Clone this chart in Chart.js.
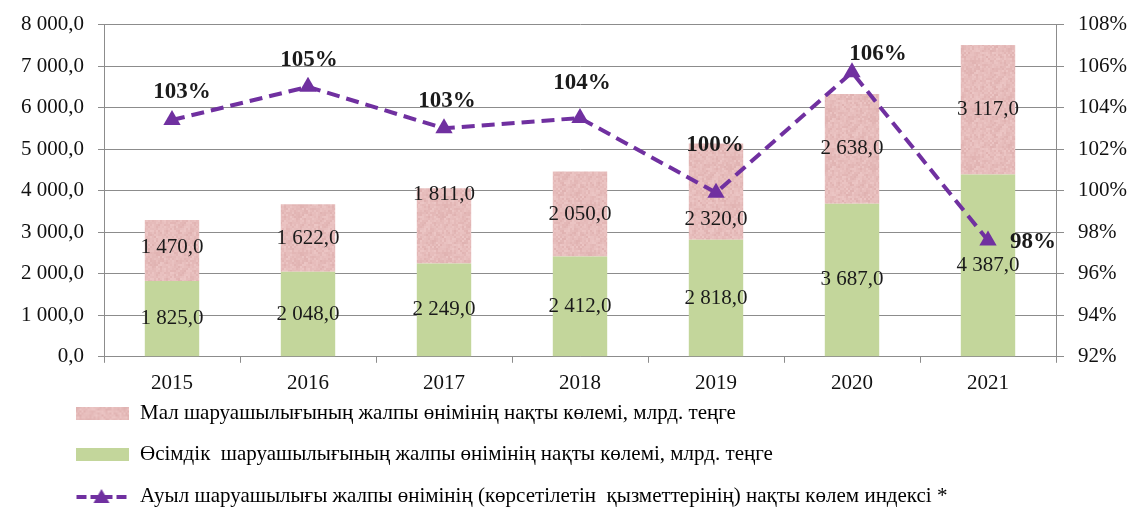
<!DOCTYPE html>
<html>
<head>
<meta charset="utf-8">
<script src="https://cdn.jsdelivr.net/npm/chart.js@4.4.1/dist/chart.umd.min.js"></script>
<style>
  html, body { margin: 0; padding: 0; background: #fff; }
  #wrap { width: 1142px; height: 510px; position: relative; }
</style>
</head>
<body>
<div id="wrap"><canvas id="myChart"></canvas></div>
<script>
const years = ["2015", "2016", "2017", "2018", "2019", "2020", "2021"];
const cropValues = [1825, 2048, 2249, 2412, 2818, 3687, 4387];
const livestockValues = [1470, 1622, 1811, 2050, 2320, 2638, 3117];
const indexValues = [103.4, 105.0, 103.0, 103.5, 99.9, 105.7, 97.6];
const indexLabels = ["103%", "105%", "103%", "104%", "100%", "106%", "98%"];

const livestockName = "Мал шаруашылығының жалпы өнімінің нақты көлемі, млрд. теңге";
const cropName = "Өсімдік  шаруашылығының жалпы өнімінің нақты көлемі, млрд. теңге";
const indexName = "Ауыл шаруашылығы жалпы өнімінің (көрсетілетін  қызметтерінің) нақты көлем индексі *";

const green = "rgb(195, 214, 155)";
const purple = "#7030a0";
const serif = "'Liberation Serif', 'Times New Roman', serif";

// label offsets for the index line (dx, dy from point)
const labelShift = [[10, -28], [1, -27], [3, -27], [2, -35], [-1, -48], [26, -18], [45, 2]];
// livestock labels that were moved off centre in the original
const livestockShift = [-3, 0, -31, 0, 28, 0, 0];

function fmt(v) {
  const s = Math.round(v).toString().replace(/\B(?=(\d{3})+(?!\d))/g, " ");
  return s + ",0";
}

// mottled pink fill, like the texture in the picture
function pinkTexture() {
  const c = document.createElement("canvas");
  c.width = 48;
  c.height = 48;
  const g = c.getContext("2d");
  for (let y = 0; y < 48; y += 2) {
    for (let x = 0; x < 48; x += 2) {
      const h = Math.sin(x * 12.9898 + y * 78.233) * 43758.5453;
      const t = h - Math.floor(h);
      const r = Math.round(224 + t * 12);
      const gg = Math.round(178 + t * 20);
      const b = Math.round(177 + t * 20);
      g.fillStyle = `rgb(${r},${gg},${b})`;
      g.fillRect(x, y, 2, 2);
    }
  }
  return c;
}
const pinkTile = pinkTexture();
const pink = document.createElement("canvas").getContext("2d").createPattern(pinkTile, "repeat");

function boxImage(fill) {
  const c = document.createElement("canvas");
  c.width = 53;
  c.height = 13;
  const g = c.getContext("2d");
  g.fillStyle = fill;
  g.fillRect(0, 0, 53, 13);
  return c;
}

function lineImage() {
  const c = document.createElement("canvas");
  c.width = 53;
  c.height = 16;
  const g = c.getContext("2d");
  g.strokeStyle = purple;
  g.lineWidth = 4;
  g.beginPath();
  g.moveTo(1, 9); g.lineTo(11, 9);
  g.moveTo(41, 9); g.lineTo(51, 9);
  g.stroke();
  g.fillStyle = purple;
  g.beginPath();
  g.moveTo(26, 1); g.lineTo(34, 15); g.lineTo(18, 15);
  g.closePath();
  g.fill();
  g.fillRect(15, 7, 22, 4);
  return c;
}

const barLabels = {
  id: "barLabels",
  afterDatasetsDraw(chart) {
    const { ctx } = chart;
    ctx.save();
    ctx.font = "21px " + serif;
    ctx.fillStyle = "#1a1a1a";
    ctx.textAlign = "center";
    ctx.textBaseline = "middle";
    [0, 1].forEach((di) => {
      const ds = chart.data.datasets[di];
      chart.getDatasetMeta(di).data.forEach((bar, i) => {
        const mid = (bar.y + bar.base) / 2 + (di === 1 ? livestockShift[i] : 0);
        ctx.fillText(fmt(ds.data[i]), bar.x, mid);
      });
    });
    ctx.font = "bold 23px " + serif;
    chart.getDatasetMeta(2).data.forEach((pt, i) => {
      ctx.fillText(indexLabels[i], pt.x + labelShift[i][0], pt.y + labelShift[i][1]);
    });
    ctx.restore();
  },
};

// the legend sits close under the axis, partly over the x label band
const legendPlace = {
  id: "legendPlace",
  afterInit(chart) {
    const legend = chart.legend;
    const fit = legend.fit;
    legend.fit = function () {
      fit.call(this);
      this.height = 106;
    };
  },
  afterLayout(chart) {
    chart.legend.left = 54;
    chart.legend.top = 382;
  },
};

const ctx = document.getElementById("myChart");
// eslint-disable-next-line no-undef
new Chart(ctx, {
  data: {
    labels: years,
    datasets: [
      {
        type: "bar",
        label: cropName,
        data: cropValues,
        backgroundColor: green,
        yAxisID: "y",
        stack: "s",
        order: 2,
        barPercentage: 0.4,
        categoryPercentage: 1,
      },
      {
        type: "bar",
        label: livestockName,
        data: livestockValues,
        backgroundColor: pink,
        yAxisID: "y",
        stack: "s",
        order: 2,
        barPercentage: 0.4,
        categoryPercentage: 1,
      },
      {
        type: "line",
        label: indexName,
        data: indexValues,
        yAxisID: "y1",
        borderColor: purple,
        backgroundColor: purple,
        borderWidth: 4,
        borderDash: [13, 7],
        pointStyle: "triangle",
        pointRadius: 10,
        pointBorderWidth: 0,
        fill: false,
        order: 1,
      },
    ],
  },
  options: {
    responsive: true,
    maintainAspectRatio: false,
    animation: false,
    layout: { padding: { left: 7, right: 1, top: 0, bottom: 0 } },
    plugins: {
      tooltip: { enabled: false },
      legend: {
        position: "bottom",
        align: "start",
        labels: {
          usePointStyle: true,
          pointStyleWidth: 55,
          padding: 20.5,
          color: "#111",
          font: { family: serif, size: 21 },
          generateLabels() {
            return [
              { text: livestockName, pointStyle: boxImage(pink), datasetIndex: 1, lineWidth: 0 },
              { text: cropName, pointStyle: boxImage(green), datasetIndex: 0, lineWidth: 0 },
              { text: indexName, pointStyle: lineImage(), datasetIndex: 2, lineWidth: 0 },
            ];
          },
        },
      },
    },
    scales: {
      x: {
        stacked: true,
        grid: { display: true, drawOnChartArea: false, offset: true, color: "#8c8c8c", tickLength: 6 },
        border: { color: "#8c8c8c" },
        ticks: { color: "#111", font: { family: serif, size: 21 }, padding: 8 },
      },
      y: {
        stacked: true,
        position: "left",
        min: 0,
        max: 8000,
        grid: { color: "#8c8c8c", tickLength: 6 },
        border: { color: "#8c8c8c" },
        ticks: {
          stepSize: 1000,
          padding: 14,
          color: "#111",
          font: { family: serif, size: 21, lineHeight: 1 },
          callback: (v) => fmt(v),
        },
      },
      y1: {
        position: "right",
        min: 92,
        max: 108,
        grid: { drawOnChartArea: false, color: "#8c8c8c", tickLength: 8 },
        border: { color: "#8c8c8c" },
        ticks: {
          stepSize: 2,
          padding: 14,
          color: "#111",
          font: { family: serif, size: 21, lineHeight: 1 },
          callback: (v) => v + "%",
        },
      },
    },
  },
  plugins: [barLabels, legendPlace],
});
</script>
</body>
</html>
